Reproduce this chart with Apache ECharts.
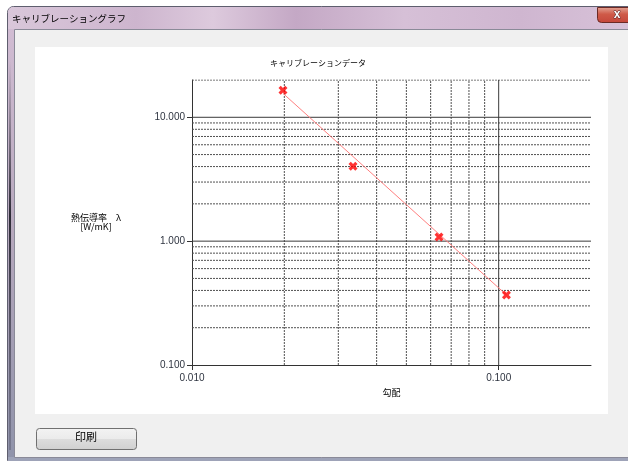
<!DOCTYPE html>
<html>
<head>
<meta charset="utf-8">
<script src="https://cdn.jsdelivr.net/npm/echarts@6/dist/echarts.min.js"></script>
<style>
html,body{margin:0;padding:0;background:#fff;}
#c{width:628px;height:461px;}
</style>
</head>
<body>
<div id="c"></div>
<script>
// ---- data ----
const windowTitle = 'キャリブレーショングラフ';
const chartTitle = 'キャリブレーションデータ';
const xName = '勾配';
const yName = '熱伝導率　λ\n[W/mK]';
const buttonLabel = '印刷';

const gradient = [0.0198, 0.0335, 0.0639, 0.106];        // 勾配
const conductivity = [16.5, 4.03, 1.08, 0.367];          // 熱伝導率
const fitX = [0.0198, 0.106];
const fitY = [15.6, 0.368];

const xRange = [0.01, 0.2];
const yRange = [0.1, 20];
const xTickValues = [0.01, 0.1];
const yTickValues = [0.1, 1, 10];
const xMajorGrid = [0.1];
const xMinorGrid = [0.02, 0.03, 0.04, 0.05, 0.06, 0.07, 0.08, 0.09];
const yMajorGrid = [1, 10];
const yMinorGrid = [0.2, 0.3, 0.4, 0.5, 0.6, 0.7, 0.8, 0.9, 2, 3, 4, 5, 6, 7, 8, 9, 20];

// ---- styles ----
const JP = '"Noto Sans CJK JP", "Noto Sans", sans-serif';
const NUM = '"Liberation Sans", "DejaVu Sans", sans-serif';
const majorStyle = { color: '#3a3a3a', width: 1, type: 'solid' };
const minorStyle = { color: '#505050', width: 1, type: [2, 1] };

function gridLine(points, style) {
  return {
    type: 'line', data: points, symbol: 'none', silent: true,
    lineStyle: style, z: 1, animation: false, tooltip: { show: false }
  };
}
const gridSeries = [];
xMinorGrid.forEach(v => gridSeries.push(gridLine([[v, yRange[0]], [v, yRange[1]]], minorStyle)));
yMinorGrid.forEach(v => gridSeries.push(gridLine([[xRange[0], v], [xRange[1], v]], minorStyle)));
xMajorGrid.forEach(v => gridSeries.push(gridLine([[v, yRange[0]], [v, yRange[1]]], majorStyle)));
yMajorGrid.forEach(v => gridSeries.push(gridLine([[xRange[0], v], [xRange[1], v]], majorStyle)));

const crossPath = 'path://M0,2.5 L2.5,0 L5,2.5 L7.5,0 L10,2.5 L7.5,5 L10,7.5 L7.5,10 L5,7.5 L2.5,10 L0,7.5 L2.5,5 Z';

const chart = echarts.init(document.getElementById('c'), null, { renderer: 'canvas' });
chart.setOption({
  backgroundColor: '#ffffff',
  animation: false,
  graphic: [
    // window frame
    { type: 'rect', shape: { x: 7.5, y: 6.5, width: 640, height: 454, r: [6, 6, 0, 0] },
      style: { fill: new echarts.graphic.LinearGradient(0, 0, 0, 1, [
        { offset: 0, color: '#d4bed5' }, { offset: 0.5, color: '#b6a8bd' }, { offset: 1, color: '#8f93aa' }]),
        stroke: '#5e5e6e', lineWidth: 1 }, z: -10 },
    // title bar
    { type: 'rect', shape: { x: 8, y: 7, width: 640, height: 22, r: [5, 5, 0, 0] },
      style: { fill: new echarts.graphic.LinearGradient(0, 0, 1, 0, [
        { offset: 0, color: '#d9c7da' }, { offset: 0.2, color: '#cdb5ce' }, { offset: 0.32, color: '#ddcadd' },
        { offset: 0.45, color: '#c4a8c5' }, { offset: 0.62, color: '#d6c0d7' }, { offset: 0.8, color: '#cfb6d0' },
        { offset: 1, color: '#d9c4da' }]) }, z: -9 },
    // left dark strip
    { type: 'rect', shape: { x: 9, y: 60, width: 2, height: 390 },
      style: { fill: new echarts.graphic.LinearGradient(0, 0, 0, 1, [
        { offset: 0, color: 'rgba(40,40,50,0)' }, { offset: 0.4, color: 'rgba(20,20,30,0.85)' }, { offset: 1, color: 'rgba(60,60,80,0.3)' }]) }, z: -8 },
    // bottom frame
    { type: 'rect', shape: { x: 8, y: 457, width: 640, height: 4 },
      style: { fill: '#9ea3b8' }, z: -8 },
    { type: 'text', x: 12, y: 18, style: { text: windowTitle, font: '9.5px ' + JP, fill: '#000', verticalAlign: 'middle' }, z: -7 },
    // close button
    { type: 'rect', shape: { x: 597.5, y: 7.5, width: 50, height: 15, r: [0, 0, 0, 4] },
      style: { fill: new echarts.graphic.LinearGradient(0, 0, 0, 1, [
        { offset: 0, color: '#e4a697' }, { offset: 0.45, color: '#cf5a48' }, { offset: 1, color: '#c4463a' }]),
        stroke: '#6b2a25', lineWidth: 1 }, z: -7 },
    { type: 'text', x: 617, y: 14.5, style: { text: 'x', font: 'bold 12px ' + NUM, fill: '#ffffff', stroke: '#5a2a2a', lineWidth: 1, align: 'center', verticalAlign: 'middle' }, z: -6 },
    // client area
    { type: 'rect', shape: { x: 14.5, y: 29.5, width: 640, height: 428 },
      style: { fill: '#f0f0f0', stroke: '#8a8a98', lineWidth: 1 }, z: -7 },
    // chart panel
    { type: 'rect', shape: { x: 35, y: 47, width: 573, height: 367 },
      style: { fill: '#ffffff' }, z: -6 },
    // print button
    { type: 'rect', shape: { x: 36.5, y: 428.5, width: 100, height: 21, r: 3 },
      style: { fill: new echarts.graphic.LinearGradient(0, 0, 0, 1, [
        { offset: 0, color: '#f3f3f3' }, { offset: 0.5, color: '#ebebeb' }, { offset: 0.5, color: '#dddddd' }, { offset: 1, color: '#d0d0d0' }]),
        stroke: '#707070', lineWidth: 1 }, z: -6 },
    { type: 'text', x: 86, y: 437, style: { text: buttonLabel, font: '11px ' + JP, fill: '#000', align: 'center', verticalAlign: 'middle' }, z: -5 },
    // chart title
    { type: 'text', x: 318, y: 63, style: { text: chartTitle, font: '8px ' + JP, fill: '#000', align: 'center', verticalAlign: 'middle' }, z: 5 }
  ],
  grid: { left: 192, top: 80, width: 399, height: 285, containLabel: false },
  xAxis: {
    type: 'log', logBase: 10, min: xRange[0], max: xRange[1],
    name: xName, nameLocation: 'middle', nameGap: 27,
    nameTextStyle: { fontFamily: JP, fontSize: 9, color: '#000', verticalAlign: 'middle' },
    axisLine: { show: true, lineStyle: { color: '#333', width: 1 } },
    axisTick: { show: true, length: 5, lineStyle: { color: '#333' }, customValues: xTickValues },
    axisLabel: { customValues: xTickValues, formatter: v => Number(v).toFixed(3), margin: 8,
      fontFamily: NUM, fontSize: 10, color: '#2e3440' },
    splitLine: { show: false }, minorTick: { show: false }
  },
  yAxis: {
    type: 'log', logBase: 10, min: yRange[0], max: yRange[1],
    name: yName, nameLocation: 'middle', nameRotate: 0, nameGap: 96,
    nameTextStyle: { fontFamily: JP, fontSize: 9, color: '#000', align: 'center', verticalAlign: 'middle', lineHeight: 9, padding: [0, 0, 7, 0] },
    axisLine: { show: true, lineStyle: { color: '#333', width: 1 } },
    axisTick: { show: true, length: 5, lineStyle: { color: '#333' }, customValues: yTickValues },
    axisLabel: { customValues: yTickValues, formatter: v => Number(v).toFixed(3), margin: 7,
      fontFamily: NUM, fontSize: 10, color: '#2e3440' },
    splitLine: { show: false }, minorTick: { show: false }
  },
  series: gridSeries.concat([
    { type: 'line', name: 'fit', data: fitX.map((x, i) => [x, fitY[i]]), symbol: 'none',
      lineStyle: { color: '#ff7f7f', width: 1 }, z: 3, animation: false },
    { type: 'scatter', name: 'data', data: gradient.map((x, i) => [x, conductivity[i]]),
      symbol: crossPath, symbolSize: 9, itemStyle: { color: '#ff0000' }, z: 4, animation: false }
  ])
});
</script>
</body>
</html>
